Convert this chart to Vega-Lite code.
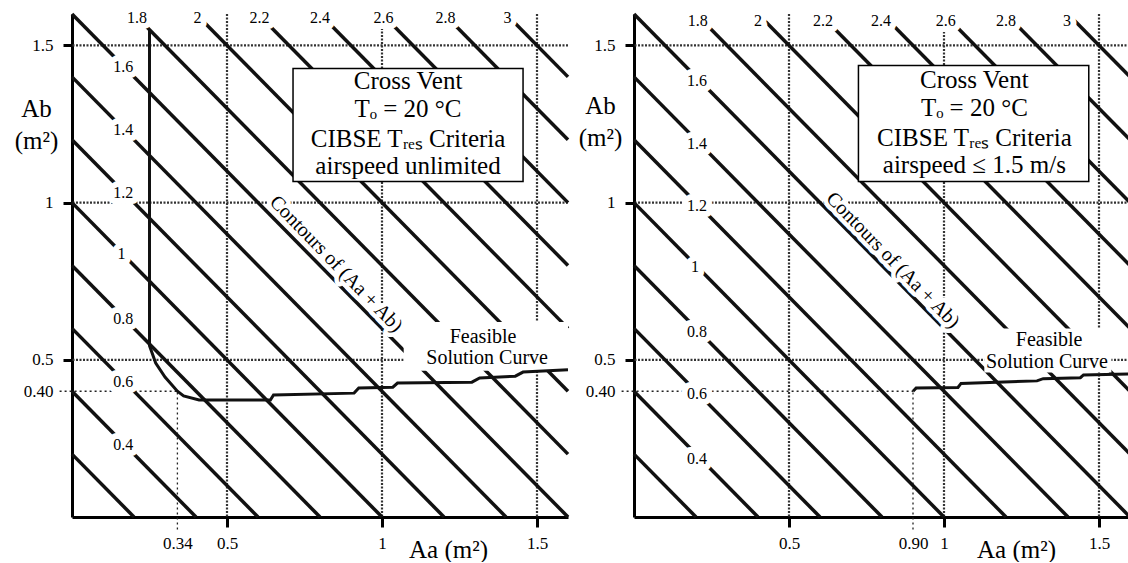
{
  "$schema": "https://vega.github.io/schema/vega-lite/v6.json",
  "background": "white",
  "padding": {"left": 14, "top": 7, "right": 0, "bottom": 0},
  "autosize": {"type": "pad"},
  "spacing": 66,
  "bounds": "flush",
  "config": {
    "view": {"stroke": null},
    "font": "Liberation Serif",
    "axis": {"domainColor": "black", "domainWidth": 3, "tickColor": "black", "tickWidth": 3, "labelColor": "black", "labelFont": "Liberation Serif", "labelFontSize": 17, "titleColor": "black", "titleFont": "Liberation Serif", "titleFontSize": 25, "titleFontWeight": "normal", "grid": false, "labelOverlap": false, "labelFlush": false, "zindex": 1}
  },
  "datasets": {
    "contours": [
      {"c": 0.2, "Aa": 0, "Ab": 0.2}, {"c": 0.2, "Aa": 0.2, "Ab": 0},
      {"c": 0.4, "Aa": 0, "Ab": 0.4}, {"c": 0.4, "Aa": 0.4, "Ab": 0},
      {"c": 0.6, "Aa": 0, "Ab": 0.6}, {"c": 0.6, "Aa": 0.6, "Ab": 0},
      {"c": 0.8, "Aa": 0, "Ab": 0.8}, {"c": 0.8, "Aa": 0.8, "Ab": 0},
      {"c": 1.0, "Aa": 0, "Ab": 1.0}, {"c": 1.0, "Aa": 1.0, "Ab": 0},
      {"c": 1.2, "Aa": 0, "Ab": 1.2}, {"c": 1.2, "Aa": 1.2, "Ab": 0},
      {"c": 1.4, "Aa": 0, "Ab": 1.4}, {"c": 1.4, "Aa": 1.4, "Ab": 0},
      {"c": 1.6, "Aa": 0, "Ab": 1.6}, {"c": 1.6, "Aa": 1.6, "Ab": 0},
      {"c": 1.8, "Aa": 0.2, "Ab": 1.6}, {"c": 1.8, "Aa": 1.6, "Ab": 0.2},
      {"c": 2.0, "Aa": 0.4, "Ab": 1.6}, {"c": 2.0, "Aa": 1.6, "Ab": 0.4},
      {"c": 2.2, "Aa": 0.6, "Ab": 1.6}, {"c": 2.2, "Aa": 1.6, "Ab": 0.6},
      {"c": 2.4, "Aa": 0.8, "Ab": 1.6}, {"c": 2.4, "Aa": 1.6, "Ab": 0.8},
      {"c": 2.6, "Aa": 1.0, "Ab": 1.6}, {"c": 2.6, "Aa": 1.6, "Ab": 1.0},
      {"c": 2.8, "Aa": 1.2, "Ab": 1.6}, {"c": 2.8, "Aa": 1.6, "Ab": 1.2},
      {"c": 3.0, "Aa": 1.4, "Ab": 1.6}, {"c": 3.0, "Aa": 1.6, "Ab": 1.4}
    ],
    "labelsL": [
      {"t": "0.4", "Aa": 0.165, "Ab": 0.23}, {"t": "0.6", "Aa": 0.165, "Ab": 0.43},
      {"t": "0.8", "Aa": 0.165, "Ab": 0.63}, {"t": "1", "Aa": 0.16, "Ab": 0.835},
      {"t": "1.2", "Aa": 0.165, "Ab": 1.03}, {"t": "1.4", "Aa": 0.165, "Ab": 1.23},
      {"t": "1.6", "Aa": 0.165, "Ab": 1.43},
      {"t": "1.8", "Aa": 0.21, "Ab": 1.587}, {"t": "2", "Aa": 0.405, "Ab": 1.587},
      {"t": "2.2", "Aa": 0.605, "Ab": 1.587}, {"t": "2.4", "Aa": 0.8, "Ab": 1.587},
      {"t": "2.6", "Aa": 1.005, "Ab": 1.587}, {"t": "2.8", "Aa": 1.205, "Ab": 1.587},
      {"t": "3", "Aa": 1.405, "Ab": 1.587}
    ],
    "labelsR": [
      {"t": "0.4", "Aa": 0.203, "Ab": 0.186}, {"t": "0.6", "Aa": 0.203, "Ab": 0.39},
      {"t": "0.8", "Aa": 0.203, "Ab": 0.59}, {"t": "1", "Aa": 0.197, "Ab": 0.795},
      {"t": "1.2", "Aa": 0.203, "Ab": 0.99}, {"t": "1.4", "Aa": 0.203, "Ab": 1.185},
      {"t": "1.6", "Aa": 0.203, "Ab": 1.387},
      {"t": "1.8", "Aa": 0.206, "Ab": 1.578}, {"t": "2", "Aa": 0.4, "Ab": 1.578},
      {"t": "2.2", "Aa": 0.61, "Ab": 1.578}, {"t": "2.4", "Aa": 0.797, "Ab": 1.578},
      {"t": "2.6", "Aa": 1.006, "Ab": 1.578}, {"t": "2.8", "Aa": 1.2, "Ab": 1.578},
      {"t": "3", "Aa": 1.397, "Ab": 1.578}
    ]
  },
  "hconcat": [
    {
      "width": 496,
      "height": 503,
      "layer": [
        {"data": {"values": [{"Aa": 0.5}, {"Aa": 1}, {"Aa": 1.5}]},
         "mark": {"type": "rule", "strokeDash": [2, 1.5], "strokeWidth": 2.2, "color": "#333"},
         "encoding": {"x": {"field": "Aa", "type": "quantitative", "scale": {"domain": [0, 1.6], "nice": false, "zero": false}}}},
        {"data": {"values": [{"Ab": 0.5}, {"Ab": 1}, {"Ab": 1.5}]},
         "mark": {"type": "rule", "strokeDash": [2, 1.5], "strokeWidth": 2.2, "color": "#333"},
         "encoding": {"y": {"field": "Ab", "type": "quantitative", "scale": {"domain": [0, 1.6], "nice": false, "zero": false}}}},
        {"data": {"values": [{"Aa": -0.04, "Aa2": 0.34, "Ab": 0.4, "Ab2": 0.4}, {"Aa": 0.34, "Aa2": 0.34, "Ab": -0.04, "Ab2": 0.4}]},
         "mark": {"type": "rule", "strokeDash": [2, 3], "strokeWidth": 1.3, "color": "#222"},
         "encoding": {
           "x": {"field": "Aa", "type": "quantitative", "scale": {"domain": [0, 1.6], "nice": false, "zero": false}},
           "x2": {"field": "Aa2"},
           "y": {"field": "Ab", "type": "quantitative", "scale": {"domain": [0, 1.6], "nice": false, "zero": false}},
           "y2": {"field": "Ab2"}}},
        {"data": {"name": "contours"},
         "mark": {"type": "line", "strokeWidth": 3.5, "color": "#111"},
         "encoding": {
           "x": {"field": "Aa", "type": "quantitative", "scale": {"domain": [0, 1.6], "nice": false, "zero": false},
                 "axis": {"values": [0.34, 0.5, 1, 1.5], "labelExpr": "format(datum.value, '~g')", "tickSize": 10, "labelPadding": 8,
                          "tickOpacity": {"condition": {"test": "datum.value < 0.45", "value": 0}, "value": 1},
                          "title": "Aa  (m²)", "titleX": 376, "titleY": 40, "titleAlign": "center", "titleBaseline": "alphabetic"}},
           "y": {"field": "Ab", "type": "quantitative", "scale": {"domain": [0, 1.6], "nice": false, "zero": false},
                 "axis": {"values": [0.4, 0.5, 1, 1.5], "labelExpr": "datum.value == 0.4 ? '0.40' : format(datum.value, '~g')", "tickSize": 9, "labelPadding": 10,
                          "tickOpacity": {"condition": {"test": "datum.value < 0.45", "value": 0}, "value": 1},
                          "title": ["Ab", "(m²)"], "titleAngle": 0, "titleX": -36, "titleY": 102, "titleAlign": "center", "titleBaseline": "alphabetic", "titleLineHeight": 32}},
           "detail": {"field": "c"}}},
        {"data": {"name": "labelsL"},
         "mark": {"type": "text", "font": "Liberation Serif", "fontSize": 16, "fill": "white", "stroke": "white", "strokeWidth": 12, "strokeJoin": "round", "baseline": "middle"},
         "encoding": {
           "x": {"field": "Aa", "type": "quantitative"},
           "y": {"field": "Ab", "type": "quantitative"},
           "text": {"field": "t"}}},
        {"data": {"name": "labelsL"},
         "mark": {"type": "text", "font": "Liberation Serif", "fontSize": 16, "color": "black", "baseline": "middle"},
         "encoding": {
           "x": {"field": "Aa", "type": "quantitative"},
           "y": {"field": "Ab", "type": "quantitative"},
           "text": {"field": "t"}}},
        {"data": {"values": [{"Aa": 1.07, "Aa2": 1.6, "Ab": 0.465, "Ab2": 0.62}]},
         "mark": {"type": "rect", "fill": "white"},
         "encoding": {
           "x": {"field": "Aa", "type": "quantitative"}, "x2": {"field": "Aa2"},
           "y": {"field": "Ab", "type": "quantitative"}, "y2": {"field": "Ab2"}}},
        {"data": {"values": [
          {"i": 1, "Aa": 0.25, "Ab": 1.55}, {"i": 2, "Aa": 0.25, "Ab": 0.545}, {"i": 3, "Aa": 0.27, "Ab": 0.49},
          {"i": 4, "Aa": 0.3, "Ab": 0.445}, {"i": 5, "Aa": 0.34, "Ab": 0.4}, {"i": 6, "Aa": 0.36, "Ab": 0.385},
          {"i": 7, "Aa": 0.41, "Ab": 0.372}, {"i": 8, "Aa": 0.64, "Ab": 0.372}, {"i": 9, "Aa": 0.65, "Ab": 0.388},
          {"i": 10, "Aa": 0.91, "Ab": 0.394}, {"i": 11, "Aa": 0.925, "Ab": 0.41}, {"i": 12, "Aa": 1.035, "Ab": 0.413},
          {"i": 13, "Aa": 1.05, "Ab": 0.426}, {"i": 14, "Aa": 1.29, "Ab": 0.429}, {"i": 15, "Aa": 1.315, "Ab": 0.442},
          {"i": 16, "Aa": 1.43, "Ab": 0.448}, {"i": 17, "Aa": 1.455, "Ab": 0.461}, {"i": 18, "Aa": 1.6, "Ab": 0.468}]},
         "mark": {"type": "line", "strokeWidth": 3, "color": "#111"},
         "encoding": {
           "x": {"field": "Aa", "type": "quantitative"},
           "y": {"field": "Ab", "type": "quantitative"},
           "order": {"field": "i"}}},
        {"data": {"values": [{"Aa": 0.713, "Aa2": 1.455, "Ab": 1.067, "Ab2": 1.427}]},
         "mark": {"type": "rect", "fill": "white", "stroke": "black", "strokeWidth": 1.5},
         "encoding": {
           "x": {"field": "Aa", "type": "quantitative"}, "x2": {"field": "Aa2"},
           "y": {"field": "Ab", "type": "quantitative"}, "y2": {"field": "Ab2"}}},
        {"data": {"values": [
          {"t": "Cross Vent", "Aa": 1.084, "Ab": 1.361},
          {"t": "Tₒ = 20 °C", "Aa": 1.084, "Ab": 1.272},
          {"t": "CIBSE Tᵣₑₛ Criteria", "Aa": 1.084, "Ab": 1.177},
          {"t": "airspeed unlimited", "Aa": 1.084, "Ab": 1.091}]},
         "mark": {"type": "text", "font": "Liberation Serif", "fontSize": 25, "color": "black", "baseline": "alphabetic", "align": "center"},
         "encoding": {
           "x": {"field": "Aa", "type": "quantitative"},
           "y": {"field": "Ab", "type": "quantitative"},
           "text": {"field": "t"}}},
        {"data": {"values": [
          {"t": "Feasible", "Aa": 1.326, "Ab": 0.555},
          {"t": "Solution Curve", "Aa": 1.339, "Ab": 0.487}]},
         "mark": {"type": "text", "font": "Liberation Serif", "fontSize": 20, "color": "black", "baseline": "alphabetic", "align": "center"},
         "encoding": {
           "x": {"field": "Aa", "type": "quantitative"},
           "y": {"field": "Ab", "type": "quantitative"},
           "text": {"field": "t"}}},
        {"data": {"values": [{"t": "Contours of (Aa + Ab)", "Aa": 0.852, "Ab": 0.805}]},
         "mark": {"type": "text", "font": "Liberation Serif", "fontSize": 20, "fill": "white", "stroke": "white", "strokeWidth": 9, "strokeJoin": "round", "angle": 46, "baseline": "middle", "align": "center"},
         "encoding": {
           "x": {"field": "Aa", "type": "quantitative"},
           "y": {"field": "Ab", "type": "quantitative"},
           "text": {"field": "t"}}},
        {"data": {"values": [{"t": "Contours of (Aa + Ab)", "Aa": 0.852, "Ab": 0.805}]},
         "mark": {"type": "text", "font": "Liberation Serif", "fontSize": 20, "color": "black", "angle": 46, "baseline": "middle", "align": "center"},
         "encoding": {
           "x": {"field": "Aa", "type": "quantitative"},
           "y": {"field": "Ab", "type": "quantitative"},
           "text": {"field": "t"}}}
      ]
    },
    {
      "width": 496,
      "height": 503,
      "layer": [
        {"data": {"values": [{"Aa": 0.5}, {"Aa": 1}, {"Aa": 1.5}]},
         "mark": {"type": "rule", "strokeDash": [2, 1.5], "strokeWidth": 2.2, "color": "#333"},
         "encoding": {"x": {"field": "Aa", "type": "quantitative", "scale": {"domain": [0, 1.6], "nice": false, "zero": false}}}},
        {"data": {"values": [{"Ab": 0.5}, {"Ab": 1}, {"Ab": 1.5}]},
         "mark": {"type": "rule", "strokeDash": [2, 1.5], "strokeWidth": 2.2, "color": "#333"},
         "encoding": {"y": {"field": "Ab", "type": "quantitative", "scale": {"domain": [0, 1.6], "nice": false, "zero": false}}}},
        {"data": {"values": [{"Aa": -0.04, "Aa2": 0.9, "Ab": 0.4, "Ab2": 0.4}, {"Aa": 0.9, "Aa2": 0.9, "Ab": -0.04, "Ab2": 0.4}]},
         "mark": {"type": "rule", "strokeDash": [2, 3], "strokeWidth": 1.3, "color": "#222"},
         "encoding": {
           "x": {"field": "Aa", "type": "quantitative", "scale": {"domain": [0, 1.6], "nice": false, "zero": false}},
           "x2": {"field": "Aa2"},
           "y": {"field": "Ab", "type": "quantitative", "scale": {"domain": [0, 1.6], "nice": false, "zero": false}},
           "y2": {"field": "Ab2"}}},
        {"data": {"name": "contours"},
         "mark": {"type": "line", "strokeWidth": 3.5, "color": "#111"},
         "encoding": {
           "x": {"field": "Aa", "type": "quantitative", "scale": {"domain": [0, 1.6], "nice": false, "zero": false},
                 "axis": {"values": [0.5, 0.9, 1, 1.5], "labelExpr": "datum.value == 0.9 ? '0.90' : format(datum.value, '~g')", "tickSize": 10, "labelPadding": 8,
                          "tickOpacity": {"condition": {"test": "datum.value > 0.8 && datum.value < 0.95", "value": 0}, "value": 1},
                          "title": "Aa  (m²)", "titleX": 382, "titleY": 40, "titleAlign": "center", "titleBaseline": "alphabetic"}},
           "y": {"field": "Ab", "type": "quantitative", "scale": {"domain": [0, 1.6], "nice": false, "zero": false},
                 "axis": {"values": [0.4, 0.5, 1, 1.5], "labelExpr": "datum.value == 0.4 ? '0.40' : format(datum.value, '~g')", "tickSize": 9, "labelPadding": 10,
                          "tickOpacity": {"condition": {"test": "datum.value < 0.45", "value": 0}, "value": 1},
                          "title": ["Ab", "(m²)"], "titleAngle": 0, "titleX": -34, "titleY": 99, "titleAlign": "center", "titleBaseline": "alphabetic", "titleLineHeight": 32}},
           "detail": {"field": "c"}}},
        {"data": {"name": "labelsR"},
         "mark": {"type": "text", "font": "Liberation Serif", "fontSize": 16, "fill": "white", "stroke": "white", "strokeWidth": 12, "strokeJoin": "round", "baseline": "middle"},
         "encoding": {
           "x": {"field": "Aa", "type": "quantitative"},
           "y": {"field": "Ab", "type": "quantitative"},
           "text": {"field": "t"}}},
        {"data": {"name": "labelsR"},
         "mark": {"type": "text", "font": "Liberation Serif", "fontSize": 16, "color": "black", "baseline": "middle"},
         "encoding": {
           "x": {"field": "Aa", "type": "quantitative"},
           "y": {"field": "Ab", "type": "quantitative"},
           "text": {"field": "t"}}},
        {"data": {"values": [{"Aa": 1.13, "Aa2": 1.54, "Ab": 0.46, "Ab2": 0.6}]},
         "mark": {"type": "rect", "fill": "white"},
         "encoding": {
           "x": {"field": "Aa", "type": "quantitative"}, "x2": {"field": "Aa2"},
           "y": {"field": "Ab", "type": "quantitative"}, "y2": {"field": "Ab2"}}},
        {"data": {"values": [
          {"i": 1, "Aa": 0.9, "Ab": 0.4}, {"i": 2, "Aa": 0.91, "Ab": 0.41}, {"i": 3, "Aa": 1.045, "Ab": 0.412},
          {"i": 4, "Aa": 1.055, "Ab": 0.425}, {"i": 5, "Aa": 1.3, "Ab": 0.433}, {"i": 6, "Aa": 1.32, "Ab": 0.44},
          {"i": 7, "Aa": 1.44, "Ab": 0.443}, {"i": 8, "Aa": 1.45, "Ab": 0.452}, {"i": 9, "Aa": 1.6, "Ab": 0.455}]},
         "mark": {"type": "line", "strokeWidth": 3, "color": "#111"},
         "encoding": {
           "x": {"field": "Aa", "type": "quantitative"},
           "y": {"field": "Ab", "type": "quantitative"},
           "order": {"field": "i"}}},
        {"data": {"values": [{"Aa": 0.724, "Aa2": 1.467, "Ab": 1.067, "Ab2": 1.436}]},
         "mark": {"type": "rect", "fill": "white", "stroke": "black", "strokeWidth": 1.5},
         "encoding": {
           "x": {"field": "Aa", "type": "quantitative"}, "x2": {"field": "Aa2"},
           "y": {"field": "Ab", "type": "quantitative"}, "y2": {"field": "Ab2"}}},
        {"data": {"values": [
          {"t": "Cross Vent", "Aa": 1.098, "Ab": 1.365},
          {"t": "Tₒ = 20 °C", "Aa": 1.098, "Ab": 1.275},
          {"t": "CIBSE Tᵣₑₛ Criteria", "Aa": 1.098, "Ab": 1.18},
          {"t": "airspeed  ≤ 1.5 m/s", "Aa": 1.098, "Ab": 1.094}]},
         "mark": {"type": "text", "font": "Liberation Serif", "fontSize": 25, "color": "black", "baseline": "alphabetic", "align": "center"},
         "encoding": {
           "x": {"field": "Aa", "type": "quantitative"},
           "y": {"field": "Ab", "type": "quantitative"},
           "text": {"field": "t"}}},
        {"data": {"values": [
          {"t": "Feasible", "Aa": 1.339, "Ab": 0.543},
          {"t": "Solution Curve", "Aa": 1.332, "Ab": 0.474}]},
         "mark": {"type": "text", "font": "Liberation Serif", "fontSize": 20, "color": "black", "baseline": "alphabetic", "align": "center"},
         "encoding": {
           "x": {"field": "Aa", "type": "quantitative"},
           "y": {"field": "Ab", "type": "quantitative"},
           "text": {"field": "t"}}},
        {"data": {"values": [{"t": "Contours of (Aa + Ab)", "Aa": 0.835, "Ab": 0.817}]},
         "mark": {"type": "text", "font": "Liberation Serif", "fontSize": 20, "fill": "white", "stroke": "white", "strokeWidth": 9, "strokeJoin": "round", "angle": 45.7, "baseline": "middle", "align": "center"},
         "encoding": {
           "x": {"field": "Aa", "type": "quantitative"},
           "y": {"field": "Ab", "type": "quantitative"},
           "text": {"field": "t"}}},
        {"data": {"values": [{"t": "Contours of (Aa + Ab)", "Aa": 0.835, "Ab": 0.817}]},
         "mark": {"type": "text", "font": "Liberation Serif", "fontSize": 20, "color": "black", "angle": 45.7, "baseline": "middle", "align": "center"},
         "encoding": {
           "x": {"field": "Aa", "type": "quantitative"},
           "y": {"field": "Ab", "type": "quantitative"},
           "text": {"field": "t"}}}
      ]
    }
  ]
}
